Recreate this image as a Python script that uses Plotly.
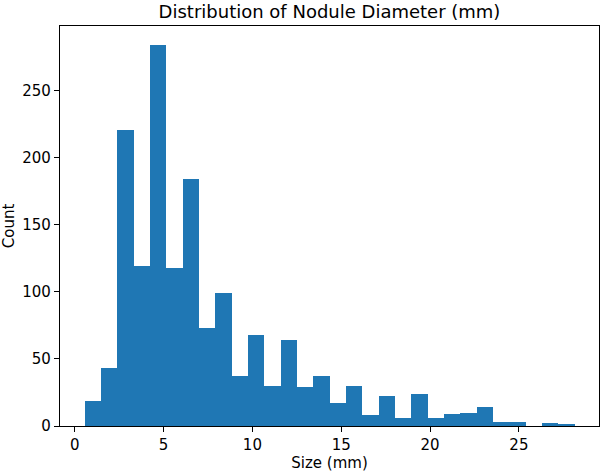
import plotly.graph_objects as go

# Histogram of nodule diameters (30 bins)
bin_start = 0.55
bin_end = 28.13
counts = [19, 43, 221, 119, 284, 118, 184, 73, 99, 37,
          68, 30, 64, 29, 37, 17, 30, 8, 22, 6,
          24, 6, 9, 10, 14, 3, 3, 0, 2, 1]
x_ticks = [0, 5, 10, 15, 20, 25]
y_ticks = [0, 50, 100, 150, 200, 250]

n = len(counts)
bw = (bin_end - bin_start) / n
centers = [bin_start + bw * (i + 0.5) for i in range(n)]

fig = go.Figure(go.Bar(
    x=centers, y=counts, width=[bw] * n,
    marker=dict(color="#1f77b4", line=dict(width=0)),
))

span = bin_end - bin_start
ymax = max(counts) * 1.05
font = "DejaVu Sans"
fig.update_layout(
    width=600, height=472,
    margin=dict(l=60, r=1, t=26, b=46, autoexpand=False),
    paper_bgcolor="white", plot_bgcolor="white",
    bargap=0, showlegend=False,
    font=dict(family=font, size=15, color="black"),
    title=dict(text="Distribution of Nodule Diameter (mm)", x=0.5, xref="paper",
               y=1 - 12 / 472, yref="container", yanchor="middle",
               font=dict(size=18, family=font, color="black")),
    xaxis=dict(range=[bin_start - 0.05 * span, bin_end + 0.05 * span],
               tickvals=x_ticks, ticks="outside", ticklen=5, tickcolor="black",
               tickfont=dict(size=15),
               showline=True, linecolor="black", linewidth=1.3, mirror=True,
               showgrid=False, zeroline=False, automargin=False,
               title=dict(text="Size (mm)", standoff=4, font=dict(size=15))),
    yaxis=dict(range=[0, ymax], tickvals=y_ticks, ticks="outside", ticklen=5,
               tickcolor="black", tickfont=dict(size=15),
               showline=True, linecolor="black", linewidth=1.3, mirror=True,
               showgrid=False, zeroline=False, automargin=False,
               title=dict(text="Count", standoff=6, font=dict(size=15))),
)

fig.write_html("out.html", config={"displayModeBar": False},
               post_script="document.body.style.margin='0';document.body.style.overflow='hidden';")
